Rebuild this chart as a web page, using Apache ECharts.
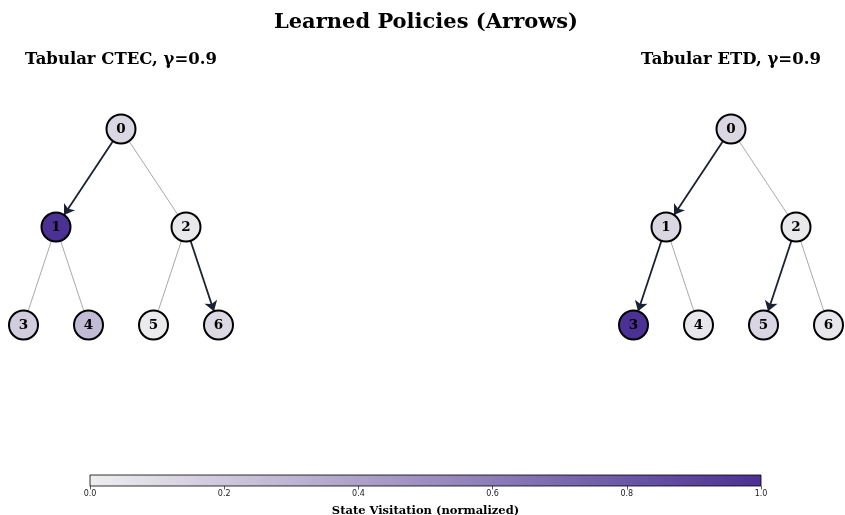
<!DOCTYPE html>
<html><head><meta charset="utf-8">
<script src="https://cdn.jsdelivr.net/npm/echarts@6/dist/echarts.min.js"></script>
<style>html,body{margin:0;padding:0;background:#fff}#c{width:845px;height:515px}</style>
</head><body><div id="c"></div>
<script>
// ---- data ----
const nodeIds = ['0', '1', '2', '3', '4', '5', '6'];
const ctecVisit = [0.12, 1.0, 0.03, 0.18, 0.27, 0.02, 0.11];
const etdVisit = [0.12, 0.12, 0.03, 1.0, 0.04, 0.13, 0.04];
const treeEdges = [[0, 1], [0, 2], [1, 3], [1, 4], [2, 5], [2, 6]];
const ctecPolicy = [[0, 1], [2, 6]];
const etdPolicy = [[0, 1], [1, 3], [2, 5]];
const cbTicks = [0, 0.2, 0.4, 0.6, 0.8, 1.0];
const cbRange = [0, 1];
const panelTitles = ['Tabular CTEC, \u03b3=0.9', 'Tabular ETD, \u03b3=0.9'];

// ---- style ----
const cmap = ['#eeeeee', '#4b3193'];
const serif = 'DejaVu Serif';

function treePos(i) {
  const depth = Math.floor(Math.log2(i + 1));
  const count = Math.pow(2, depth);
  const idx = i - (count - 1);
  return [(idx - (count - 1) / 2) * Math.pow(2, 2 - depth), depth];
}

function graphSeries(visits, policy, gi) {
  const nodes = nodeIds.map((id, i) => ({
    name: id,
    value: treePos(i),
    itemStyle: { color: echarts.color.lerp(visits[i], cmap) }
  }));
  const isPolicy = (a, b) => policy.some(p => p[0] === a && p[1] === b);
  const links = treeEdges.map(e => {
    const pol = isPolicy(e[0], e[1]);
    return {
      source: nodeIds[e[0]], target: nodeIds[e[1]],
      symbol: pol ? ['none', 'arrow'] : ['none', 'none'],
      symbolSize: pol ? [0, 10] : [0, 0],
      lineStyle: pol ? { color: '#1b2033', width: 1.8, opacity: 1 } : { color: '#a8a8a8', width: 1, opacity: 1 }
    };
  });
  return {
    type: 'graph', coordinateSystem: 'cartesian2d', xAxisIndex: gi, yAxisIndex: gi,
    symbolSize: 29, data: nodes, links: links, silent: true,
    itemStyle: { borderColor: '#000', borderWidth: 2 },
    label: { show: true, position: 'inside', color: '#000', fontFamily: serif, fontWeight: 'bold', fontSize: 13.5, formatter: '{b}' },
    edgeSymbol: ['none', 'arrow']
  };
}

const chart = echarts.init(document.getElementById('c'), null, { renderer: 'canvas' });
const hiddenAxis = { show: false };
chart.setOption({
  animation: false,
  title: [
    { text: 'Learned Policies (Arrows)', left: 421, textAlign: 'center', top: 7, textStyle: { fontFamily: serif, fontWeight: 'bold', fontSize: 21, color: '#000' } },
    { text: panelTitles[0], left: 116, textAlign: 'center', top: 46, textStyle: { fontFamily: serif, fontWeight: 'bold', fontSize: 16.5, color: '#000' } },
    { text: panelTitles[1], left: 726, textAlign: 'center', top: 46, textStyle: { fontFamily: serif, fontWeight: 'bold', fontSize: 16.5, color: '#000' } }
  ],
  grid: [
    { left: 10.5, width: 221, top: 80, height: 294, outerBoundsMode: 'none' },
    { left: 620.5, width: 221, top: 80, height: 294, outerBoundsMode: 'none' },
    { left: 90, width: 671, top: 475, height: 11, outerBoundsMode: 'none', containLabel: false }
  ],
  xAxis: [
    Object.assign({ type: 'value', gridIndex: 0, min: -1.7, max: 1.7 }, hiddenAxis),
    Object.assign({ type: 'value', gridIndex: 1, min: -1.7, max: 1.7 }, hiddenAxis),
    {
      type: 'value', gridIndex: 2, min: 0, max: 1, interval: 0.2,
      axisLine: { show: false }, splitLine: { show: false },
      axisTick: { show: true, length: 3.5, lineStyle: { color: '#333', width: 0.8 } },
      axisLabel: { fontFamily: 'DejaVu Sans', fontSize: 8, color: '#222', margin: 4, formatter: v => cbTicks.includes(+v.toFixed(1)) ? v.toFixed(1) : '' },
      name: 'State Visitation (normalized)', nameLocation: 'middle', nameGap: 19,
      nameTextStyle: { fontFamily: serif, fontWeight: 'bold', fontSize: 11.5, color: '#000' }
    }
  ],
  yAxis: [
    Object.assign({ type: 'value', gridIndex: 0, min: -0.5, max: 2.5, inverse: true }, hiddenAxis),
    Object.assign({ type: 'value', gridIndex: 1, min: -0.5, max: 2.5, inverse: true }, hiddenAxis),
    { type: 'value', gridIndex: 2, min: 0, max: 1, show: false }
  ],
  series: [
    graphSeries(ctecVisit, ctecPolicy, 0),
    graphSeries(etdVisit, etdPolicy, 1),
    {
      type: 'custom', xAxisIndex: 2, yAxisIndex: 2, silent: true,
      data: [cbRange],
      renderItem: function (params, api) {
        const p0 = api.coord([api.value(0), 0]);
        const p1 = api.coord([api.value(1), 1]);
        return {
          type: 'rect',
          shape: { x: p0[0], y: p1[1], width: p1[0] - p0[0], height: p0[1] - p1[1] },
          style: {
            fill: new echarts.graphic.LinearGradient(0, 0, 1, 0, [{ offset: 0, color: cmap[0] }, { offset: 1, color: cmap[1] }]),
            stroke: '#000', lineWidth: 0.8
          }
        };
      }
    }
  ]
});
</script></body></html>
